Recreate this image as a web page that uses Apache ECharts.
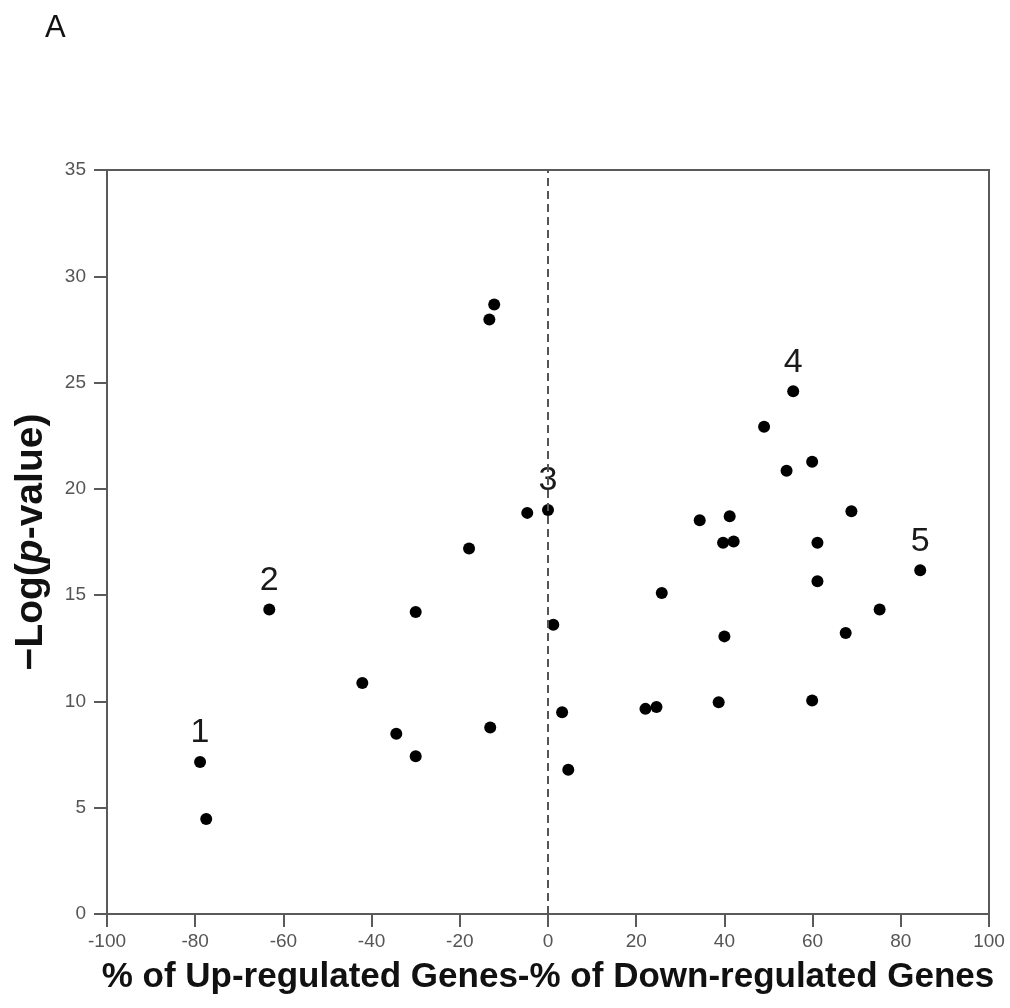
<!DOCTYPE html>
<html>
<head>
<meta charset="utf-8">
<script src="https://cdn.jsdelivr.net/npm/echarts@6/dist/echarts.min.js"></script>
<style>
  html, body { margin: 0; padding: 0; background: #fff; }
  #chart { width: 1010px; height: 1008px; }
</style>
</head>
<body>
<div id="chart"></div>
<script>
// Difference between up- and down-regulated gene percentages per term
const diffPct = [
  -78.9, -77.5, -63.2, -42.1, -30.0, -34.4, -30.0, -13.1, -17.9, -4.7,
  0.0, -12.2, -13.3,
  55.6, 49.0, 54.1, 59.9, 68.8, 34.4, 41.2, 39.7, 42.1, 61.1,
  84.4, 61.1, 25.8, 75.2, 1.2, 40.0, 67.5, 22.1, 24.6, 38.7,
  59.9, 3.2, 4.6
];
// -log(p-value) for each term
const negLogP = [
  7.15, 4.47, 14.32, 10.87, 14.21, 8.48, 7.42, 8.77, 17.19, 18.87,
  19.0, 28.67, 27.97,
  24.59, 22.92, 20.85, 21.28, 18.95, 18.52, 18.71, 17.46, 17.52, 17.46,
  16.17, 15.65, 15.1, 14.32, 13.61, 13.06, 13.22, 9.65, 9.74, 9.96,
  10.04, 9.49, 6.79
];
// Highlighted terms and their numbered tags
const tagIndex = [0, 2, 10, 13, 23];
const tagText = ['1', '2', '3', '4', '5'];

const xTicks = { min: -100, max: 100, interval: 20 };
const yTicks = { min: 0, max: 35, interval: 5 };

const points = diffPct.map((x, i) => {
  const t = tagIndex.indexOf(i);
  const item = { value: [x, negLogP[i]] };
  if (t >= 0) {
    item.label = { show: true, formatter: tagText[t] };
  }
  return item;
});

const axisColor = '#5a5a5a';
const font = 'Liberation Sans';
const chart = echarts.init(document.getElementById('chart'));
chart.setOption({
  animation: false,
  backgroundColor: '#fff',
  title: {
    text: 'A', left: 40, top: 8,
    textStyle: { fontFamily: font, fontSize: 31, fontWeight: 'normal', color: '#111' }
  },
  grid: {
    left: 107, right: 21, top: 170, bottom: 94,
    show: true, borderColor: axisColor, borderWidth: 2, backgroundColor: 'transparent'
  },
  xAxis: {
    type: 'value', min: xTicks.min, max: xTicks.max, interval: xTicks.interval,
    name: '% of Up-regulated Genes-% of Down-regulated Genes',
    nameLocation: 'middle', nameGap: 46,
    nameTextStyle: { fontFamily: font, fontSize: 35, fontWeight: 'bold', color: '#111' },
    axisLine: { show: true, onZero: false, lineStyle: { color: axisColor, width: 2 } },
    axisTick: { show: true, length: 13, lineStyle: { color: axisColor, width: 2 } },
    axisLabel: { fontFamily: font, fontSize: 19, color: '#555', margin: 18 },
    splitLine: { show: false }
  },
  yAxis: {
    type: 'value', min: yTicks.min, max: yTicks.max, interval: yTicks.interval,
    name: '{n|\u2212Log(}{i|p}{n|-value)}',
    nameLocation: 'middle', nameGap: 56, nameRotate: 90,
    nameTextStyle: {
      rich: {
        n: { fontFamily: font, fontSize: 39, fontWeight: 'bold', color: '#111' },
        i: { fontFamily: font, fontSize: 39, fontWeight: 'bold', fontStyle: 'italic', color: '#111' }
      }
    },
    axisLine: { show: true, onZero: false, lineStyle: { color: axisColor, width: 2 } },
    axisTick: { show: true, length: 13, lineStyle: { color: axisColor, width: 2 } },
    axisLabel: { fontFamily: font, fontSize: 19, color: '#555', margin: 21 },
    splitLine: { show: false }
  },
  series: [{
    type: 'scatter',
    symbol: 'circle',
    symbolSize: 12,
    itemStyle: { color: '#000', opacity: 1 },
    label: {
      show: false, position: 'top', distance: 6,
      fontFamily: font, fontSize: 34, color: '#1a1a1a'
    },
    data: points,
    markLine: {
      silent: true, symbol: 'none',
      label: { show: false },
      lineStyle: { color: '#555', type: [8, 5], width: 2 },
      data: [{ xAxis: 0 }]
    }
  }]
});
</script>
</body>
</html>
